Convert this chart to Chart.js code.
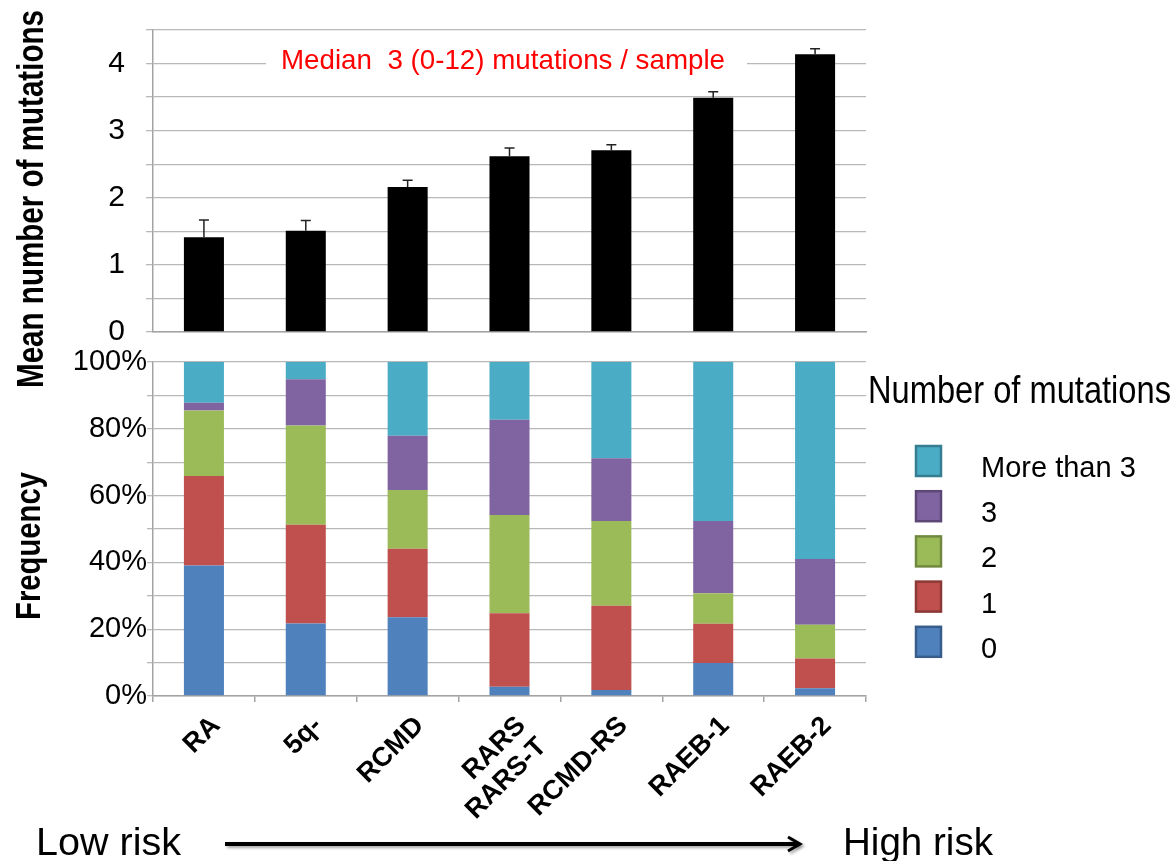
<!DOCTYPE html>
<html><head><meta charset="utf-8">
<script src="https://cdn.jsdelivr.net/npm/chart.js@4.4.1/dist/chart.umd.min.js"></script>
<style>
html,body{margin:0;padding:0;background:#fff;}
#wrap{position:relative;width:1176px;height:861px;overflow:hidden;background:#fff;}
#cB{position:absolute;left:0;top:0;}
#cA{position:absolute;left:0;top:0;}
</style></head><body>
<div id="wrap"><canvas id="cB" width="1176" height="861"></canvas><canvas id="cA" width="1176" height="345"></canvas></div>
<script>
// ---- data ----
const categories = ['RA', '5q-', 'RCMD', ['RARS', 'RARS-T'], 'RCMD-RS', 'RAEB-1', 'RAEB-2'];
const meanMutations = [1.41, 1.51, 2.16, 2.62, 2.71, 3.49, 4.14];
const errorUpper = [1.67, 1.66, 2.26, 2.74, 2.79, 3.58, 4.22];
const meanTicks = [0, 1, 2, 3, 4];
const freq0 = [39.1, 21.7, 23.6, 2.8, 1.8, 9.9, 2.3];
const freq1 = [26.8, 29.6, 20.5, 22.0, 25.2, 11.7, 8.9];
const freq2 = [19.6, 29.7, 17.6, 29.4, 25.4, 9.2, 10.1];
const freq3 = [2.3, 13.8, 16.2, 28.5, 18.8, 21.6, 19.7];
const freqMore = [12.2, 5.2, 22.1, 17.3, 28.8, 47.6, 59.0];
const freqLabels = ['0', '1', '2', '3', 'More than 3'];
const freqTicks = [0, 20, 40, 60, 80, 100];
const annotationText = 'Median  3 (0-12) mutations / sample';
const topTitle = 'Mean number of mutations';
const bottomTitle = 'Frequency';
const legendTitle = 'Number of mutations';
const lowRisk = 'Low risk';
const highRisk = 'High risk';

// ---- styles ----
const FONT = "'Liberation Sans', Arial, Helvetica, sans-serif";
Chart.defaults.font.family = FONT;
const gridColor = '#b8b8b8';
const axisColor = '#a3a3a3';
const fills = ['#4F81BD', '#C0504D', '#9BBB59', '#8064A2', '#4BACC6'];
const borders = ['#385D8A', '#8C3836', '#71893F', '#5C4776', '#357D91'];

function fitText(ctx, text, x, y, width, font, sy) {
  ctx.save();
  ctx.font = font;
  const w = ctx.measureText(text).width;
  ctx.translate(x, y);
  ctx.scale(width / w, sy || 1);
  ctx.fillText(text, 0, 0);
  ctx.restore();
}

const errorBarPlugin = {
  id: 'errorBars',
  afterDatasetsDraw(chart) {
    const ctx = chart.ctx;
    const meta = chart.getDatasetMeta(0);
    const ys = chart.scales.y;
    ctx.save();
    ctx.strokeStyle = '#222';
    ctx.lineWidth = 1.5;
    meta.data.forEach((bar, i) => {
      const yv = ys.getPixelForValue(errorUpper[i]);
      ctx.beginPath();
      ctx.moveTo(bar.x, bar.y);
      ctx.lineTo(bar.x, yv);
      ctx.moveTo(bar.x - 5, yv);
      ctx.lineTo(bar.x + 5, yv);
      ctx.stroke();
    });
    ctx.restore();
  }
};

const annotationPlugin = {
  id: 'annot',
  afterDraw(chart) {
    const ctx = chart.ctx;
    const ys = chart.scales.y;
    const y4 = ys.getPixelForValue(4);
    ctx.save();
    ctx.fillStyle = '#fff';
    ctx.fillRect(266, y4 - 16, 481, 32);
    ctx.fillStyle = '#ff0000';
    ctx.textBaseline = 'alphabetic';
    fitText(ctx, annotationText, 281, y4 + 5, 444, '28px ' + FONT, 1);
    ctx.restore();
  }
};

function fixY(s) { s.width = 153; s.paddingTop = 0; s.paddingBottom = 0; }

new Chart(document.getElementById('cA'), {
  type: 'bar',
  data: {
    labels: categories,
    datasets: [{
      label: topTitle, data: meanMutations, backgroundColor: '#000', borderWidth: 0,
      barPercentage: 0.393, categoryPercentage: 1
    }]
  },
  options: {
    responsive: false, animation: false, devicePixelRatio: 1,
    layout: { padding: { left: 0, right: 310, top: 30, bottom: 0 } },
    plugins: { legend: { display: false }, tooltip: { enabled: false } },
    scales: {
      x: {
        grid: { display: false },
        border: { display: true, color: axisColor, width: 1.5 },
        ticks: { display: false },
        afterFit: s => { s.height = 13; s.paddingLeft = 0; s.paddingRight = 0; }
      },
      y: {
        min: 0, max: 4.5,
        ticks: {
          stepSize: 0.5, autoSkip: false, padding: 21, color: '#000',
          font: { size: 30, family: FONT },
          callback: v => meanTicks.includes(v) ? String(v) : ''
        },
        grid: { color: gridColor, lineWidth: 1.3, tickLength: 7 },
        border: { color: axisColor, width: 1.5 },
        afterFit: fixY
      }
    }
  },
  plugins: [errorBarPlugin, annotationPlugin]
});

const decorPlugin = {
  id: 'decor',
  afterDraw(chart) {
    const ctx = chart.ctx;
    ctx.save();
    ctx.fillStyle = '#000';
    ctx.textBaseline = 'alphabetic';
    ctx.textAlign = 'left';
    // legend
    fitText(ctx, legendTitle, 868, 403, 303, '34px ' + FONT, 1.15);
    const ds = chart.data.datasets;
    for (let k = 0; k < ds.length; k++) {
      const idx = ds.length - 1 - k;
      const top = 446 + k * 45.2;
      ctx.fillStyle = ds[idx].backgroundColor;
      ctx.fillRect(916, top, 25, 30);
      ctx.strokeStyle = borders[idx];
      ctx.lineWidth = 2.5;
      ctx.strokeRect(916, top, 25, 30);
      ctx.fillStyle = '#000';
      ctx.font = '29px ' + FONT;
      ctx.fillText(ds[idx].label, 981, top + 31);
    }
    // axis titles
    ctx.save();
    ctx.translate(43, 388);
    ctx.rotate(-Math.PI / 2);
    fitText(ctx, topTitle, 0, 0, 378, 'bold 37px ' + FONT, 1);
    ctx.restore();
    ctx.save();
    ctx.translate(40, 620);
    ctx.rotate(-Math.PI / 2);
    fitText(ctx, bottomTitle, 0, 0, 148, 'bold 35px ' + FONT, 1);
    ctx.restore();
    // risk labels and arrow
    fitText(ctx, lowRisk, 36, 855, 145, '39px ' + FONT, 1);
    fitText(ctx, highRisk, 843, 855, 150, '39px ' + FONT, 1);
    ctx.shadowColor = 'rgba(0,0,0,0.35)';
    ctx.shadowBlur = 3;
    ctx.shadowOffsetX = 2;
    ctx.shadowOffsetY = 2;
    ctx.strokeStyle = '#000';
    ctx.lineWidth = 4;
    ctx.beginPath();
    ctx.moveTo(225, 844);
    ctx.lineTo(798, 844);
    ctx.stroke();
    ctx.lineWidth = 3;
    ctx.beginPath();
    ctx.moveTo(788, 837);
    ctx.lineTo(800, 844);
    ctx.lineTo(788, 851);
    ctx.stroke();
    ctx.restore();
  }
};

const freqSeries = [freq0, freq1, freq2, freq3, freqMore];
new Chart(document.getElementById('cB'), {
  type: 'bar',
  data: {
    labels: categories,
    datasets: freqSeries.map((d, i) => ({
      label: freqLabels[i], data: d, backgroundColor: fills[i], borderWidth: 0,
      barPercentage: 0.393, categoryPercentage: 1
    }))
  },
  options: {
    responsive: false, animation: false, devicePixelRatio: 1,
    layout: { padding: { left: 0, right: 310, top: 362, bottom: 0 } },
    plugins: { legend: { display: false }, tooltip: { enabled: false } },
    scales: {
      x: {
        stacked: true,
        grid: { display: true, drawOnChartArea: false, tickLength: 6, color: axisColor, lineWidth: 1.5 },
        border: { display: true, color: axisColor, width: 1.5 },
        ticks: {
          color: '#000', font: { size: 27, weight: 'bold', family: FONT, lineHeight: 1.1 },
          minRotation: 45, maxRotation: 45, autoSkip: false, padding: 9, labelOffset: 12
        },
        afterFit: s => { s.height = 165; s.paddingLeft = 0; s.paddingRight = 0; }
      },
      y: {
        stacked: true, min: 0, max: 100,
        ticks: {
          stepSize: 10, autoSkip: false, padding: 0, color: '#000',
          font: { size: 29, family: FONT },
          callback: v => freqTicks.includes(v) ? v + '%' : ''
        },
        grid: { color: gridColor, lineWidth: 1.3, tickLength: 6 },
        border: { color: axisColor, width: 1.5 },
        afterFit: fixY
      }
    }
  },
  plugins: [decorPlugin]
});
</script>
</body></html>
